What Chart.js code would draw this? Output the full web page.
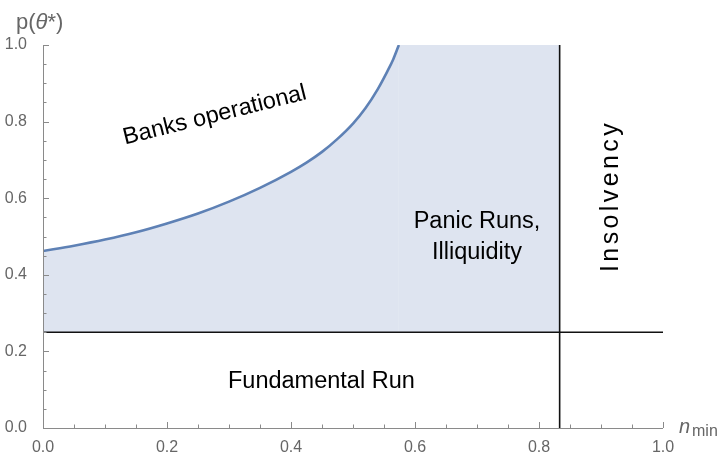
<!DOCTYPE html>
<html lang="en">
<head>
    <meta charset="UTF-8">
    <title>Bank run regions</title>
    <script src="https://cdn.jsdelivr.net/npm/chart.js@4.4.3/dist/chart.umd.min.js"></script>
    <style>
        body { margin: 0; background: #fff; }
        #wrap { width: 722px; height: 455px; }
    </style>
</head>
<body>
    <div id="wrap"><canvas id="regionChart"></canvas></div>
    <script>
        // p(theta*) boundary
        const nMin = [0, 0.05, 0.10, 0.15, 0.20, 0.25, 0.30, 0.35, 0.40, 0.425, 0.45, 0.475, 0.50, 0.52, 0.54, 0.555, 0.565, 0.574];
        const pStar = [0.462, 0.476, 0.492, 0.511, 0.534, 0.560, 0.591, 0.627, 0.669, 0.693, 0.721, 0.755, 0.795, 0.835, 0.885, 0.930, 0.963, 1.0];
        const fundamentalP = 0.25;     // horizontal line
        const insolvencyN = 0.8333;    // vertical line
        const tickLabels = ['0.0', '0.2', '0.4', '0.6', '0.8', '1.0'];
        const regionNames = ['Banks operational', 'Panic Runs,', 'Illiquidity', 'Fundamental Run', 'Insolvency'];

        const FONT = '"Liberation Sans", Arial, sans-serif';
        const fillColor = '#dee4f0';

        const curvePts = nMin.map((n, i) => ({ x: n, y: pStar[i] }));
        const topEdge = [{ x: nMin[nMin.length - 1], y: 1 }, { x: insolvencyN, y: 1 }];

        // where the region names sit (data units) and how they are drawn
        const labelPlacement = [
            { x: 0.277, y: 0.816, angle: -14, size: 23.5 },
            { x: 0.700, y: 0.540, angle: 0, size: 23.5 },
            { x: 0.700, y: 0.459, angle: 0, size: 23.5 },
            { x: 0.449, y: 0.122, angle: 0, size: 23.5 },
            { x: 0.9156, y: 0.6015, angle: -90, size: 25, spacing: 3.4 }
        ];

        const axesAndText = {
            id: 'axesAndText',
            afterDatasetsDraw(chart) {
                const { ctx, chartArea: a, scales: { x, y } } = chart;
                ctx.save();

                // axis lines and inward ticks
                ctx.strokeStyle = '#8a8a8a';
                ctx.lineWidth = 1;
                ctx.beginPath();
                ctx.moveTo(a.left + 0.5, a.top);
                ctx.lineTo(a.left + 0.5, a.bottom + 0.5);
                ctx.lineTo(a.right, a.bottom + 0.5);
                for (let i = 0; i <= 20; i++) {
                    const v = i * 0.05;
                    const len = i % 4 === 0 ? 6 : 3.5;
                    const px = Math.round(x.getPixelForValue(v)) + 0.5;
                    ctx.moveTo(px, a.bottom);
                    ctx.lineTo(px, a.bottom - len);
                    const py = Math.round(y.getPixelForValue(v)) + 0.5;
                    ctx.moveTo(a.left, py);
                    ctx.lineTo(a.left + len, py);
                }
                ctx.stroke();

                // axis titles
                ctx.fillStyle = '#666';
                ctx.textBaseline = 'alphabetic';
                ctx.textAlign = 'left';
                let tx = 16;
                const parts = [['p(', ''], ['\u03b8', 'italic '], ['*)', '']];
                parts.forEach(([s, st]) => {
                    ctx.font = st + '22px ' + FONT;
                    ctx.fillText(s, tx, 29);
                    tx += ctx.measureText(s).width;
                });
                ctx.font = 'italic 20px ' + FONT;
                ctx.fillText('n', 679, 433);
                ctx.font = '16px ' + FONT;
                ctx.fillText('min', 692, 436);

                // region names
                ctx.fillStyle = '#000';
                ctx.textBaseline = 'middle';
                regionNames.forEach((name, i) => {
                    const p = labelPlacement[i];
                    ctx.save();
                    ctx.translate(x.getPixelForValue(p.x), y.getPixelForValue(p.y));
                    ctx.rotate(p.angle * Math.PI / 180);
                    ctx.font = p.size + 'px ' + FONT;
                    if (p.spacing) {
                        const chars = name.split('');
                        const widths = chars.map(c => ctx.measureText(c).width);
                        const total = widths.reduce((s, w) => s + w, 0) + p.spacing * (chars.length - 1);
                        let cx = -total / 2;
                        ctx.textAlign = 'left';
                        chars.forEach((c, k) => {
                            ctx.fillText(c, cx, 0);
                            cx += widths[k] + p.spacing;
                        });
                    } else {
                        ctx.textAlign = 'center';
                        ctx.fillText(name, 0, 0);
                    }
                    ctx.restore();
                });
                ctx.restore();
            }
        };

        new Chart(document.getElementById('regionChart'), {
            type: 'line',
            data: {
                datasets: [
                    {
                        data: [{ x: 0, y: fundamentalP }, { x: 1, y: fundamentalP }],
                        borderColor: '#111', borderWidth: 1.6, pointRadius: 0, fill: false
                    },
                    {
                        data: [{ x: insolvencyN, y: 0 }, { x: insolvencyN, y: 1 }],
                        borderColor: '#111', borderWidth: 1.6, pointRadius: 0, fill: false
                    },
                    {
                        data: curvePts,
                        borderColor: '#5e81b5', borderWidth: 2.6, pointRadius: 0,
                        cubicInterpolationMode: 'monotone',
                        backgroundColor: fillColor,
                        fill: { value: fundamentalP }
                    },
                    {
                        data: topEdge,
                        borderWidth: 0, pointRadius: 0,
                        backgroundColor: fillColor,
                        fill: { value: fundamentalP }
                    }
                ]
            },
            options: {
                responsive: true,
                maintainAspectRatio: false,
                animation: false,
                layout: { padding: { top: 45, right: 59, left: 0, bottom: 0 } },
                plugins: { legend: { display: false }, tooltip: { enabled: false } },
                scales: {
                    x: {
                        type: 'linear', min: 0, max: 1,
                        grid: { display: false },
                        border: { display: false },
                        afterFit: s => { s.height = 27; },
                        ticks: {
                            stepSize: 0.2, maxRotation: 0, autoSkip: false, padding: 2,
                            color: '#666', font: { family: FONT, size: 16 },
                            callback: (v, i) => tickLabels[i]
                        }
                    },
                    y: {
                        min: 0, max: 1,
                        grid: { display: false },
                        border: { display: false },
                        afterFit: s => { s.width = 43; },
                        ticks: {
                            stepSize: 0.2, padding: 8,
                            color: '#666', font: { family: FONT, size: 16 },
                            callback: (v, i) => tickLabels[i]
                        }
                    }
                }
            },
            plugins: [axesAndText]
        });
    </script>
</body>
</html>
